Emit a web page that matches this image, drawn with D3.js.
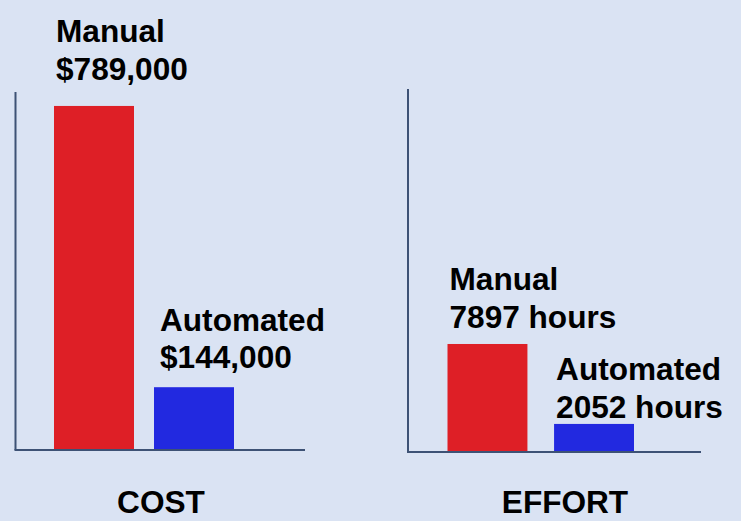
<!DOCTYPE html>
<html>
<head>
<meta charset="utf-8">
<script src="https://cdn.jsdelivr.net/npm/d3@7"></script>
<style>
  html, body { margin: 0; padding: 0; background: #dae3f3; }
  svg { display: block; }
  text { font-family: "Liberation Sans", Arial, sans-serif; font-weight: bold; fill: #000; }
</style>
</head>
<body>
<svg width="741" height="521"></svg>
<script>
// data
var panels = ["COST", "EFFORT"];
var series = ["Manual", "Automated"];
var costValues = [789000, 144000];
var effortValues = [7897, 2052];
var costLabels = ["$789,000", "$144,000"];
var effortLabels = ["7897 hours", "2052 hours"];

var colors = { Manual: "#de1f26", Automated: "#2229e0" };

// layout of each little chart
var layout = [
  { values: costValues, labels: costLabels, max: 821000,
    left: 15.5, right: 305, top: 92, bottom: 450,
    band: [54, 234], pad: 0.2, titleX: 161, labelGap: [26, 19], labelDx: [2, 6] },
  { values: effortValues, labels: effortLabels, max: 26540,
    left: 408, right: 701, top: 89, bottom: 452,
    band: [447.5, 634], pad: 0.25, titleX: 565, labelGap: [16, 6], labelDx: [2, 2] }
];

var svg = d3.select("svg");
var lineH = 37.5;

panels.forEach(function(name, i) {
  var p = layout[i];

  var x = d3.scaleBand()
      .domain(series)
      .range(p.band)
      .paddingInner(p.pad)
      .paddingOuter(0);

  var y = d3.scaleLinear()
      .domain([0, p.max])
      .range([p.bottom, p.top]);

  var g = svg.append("g").attr("class", "panel");

  var data = series.map(function(s, j) {
    return { name: s, value: p.values[j], label: p.labels[j], idx: j };
  });

  g.selectAll(".bar")
    .data(data)
    .enter()
    .append("rect")
      .attr("class", "bar")
      .attr("x", function(d) { return x(d.name); })
      .attr("y", function(d) { return y(d.value); })
      .attr("width", x.bandwidth())
      .attr("height", function(d) { return y(0) - y(d.value); })
      .attr("fill", function(d) { return colors[d.name]; });

  // axis lines (no ticks in the original)
  g.append("line")
    .attr("x1", p.left).attr("x2", p.left)
    .attr("y1", p.top).attr("y2", p.bottom)
    .attr("stroke", "#3d5275").attr("stroke-width", 2);

  g.append("line")
    .attr("x1", p.left - 1).attr("x2", p.right)
    .attr("y1", p.bottom).attr("y2", p.bottom)
    .attr("stroke", "#3d5275").attr("stroke-width", 2);

  var lbl = g.selectAll(".lbl")
    .data(data)
    .enter()
    .append("text")
      .attr("class", "lbl")
      .attr("font-size", "31.6px")
      .attr("x", function(d) { return x(d.name) + p.labelDx[d.idx]; })
      .attr("y", function(d) { return y(d.value) - p.labelGap[d.idx] - lineH; });

  lbl.append("tspan")
    .text(function(d) { return d.name; });

  lbl.append("tspan")
    .attr("x", function(d) { return x(d.name) + p.labelDx[d.idx]; })
    .attr("dy", lineH)
    .text(function(d) { return d.label; });

  g.append("text")
    .attr("x", p.titleX)
    .attr("y", 513)
    .attr("text-anchor", "middle")
    .attr("font-size", "31.6px")
    .text(name);
});
</script>
</body>
</html>
